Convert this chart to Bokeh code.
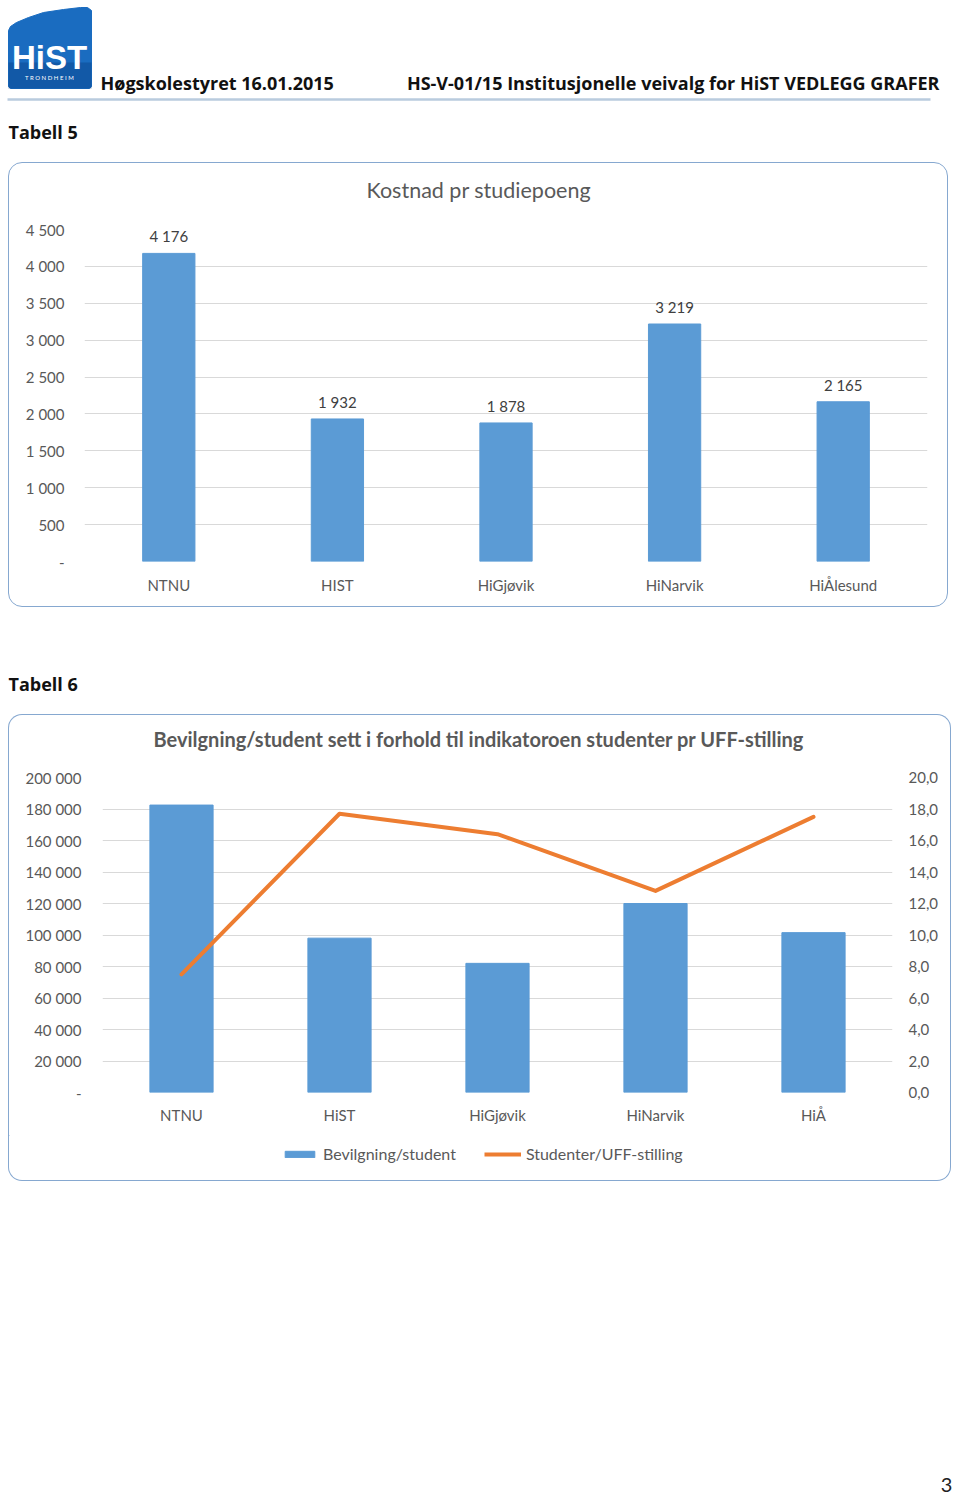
from bokeh.plotting import figure
from bokeh.models import (Range1d, FactorRange, LinearAxis, FixedTicker, LabelSet, Title,
                          ColumnDataSource, Legend, LegendItem)
from bokeh.layouts import column
from bokeh.embed import file_html
from bokeh.resources import INLINE
from bokeh.core.properties import value

# ---------------- data ----------------
t5_institutions = ["NTNU", "HIST", "HiGjøvik", "HiNarvik", "HiÅlesund"]
t5_cost = [4176, 1932, 1878, 3219, 2165]
t5_cost_labels = ["4 176", "1 932", "1 878", "3 219", "2 165"]
t5_ticks = [0, 500, 1000, 1500, 2000, 2500, 3000, 3500, 4000, 4500]
t5_tick_labels = ["-", "500", "1 000", "1 500", "2 000", "2 500", "3 000", "3 500", "4 000", "4 500"]

t6_institutions = ["NTNU", "HiST", "HiGjøvik", "HiNarvik", "HiÅ"]
t6_grant = [182500, 98000, 82000, 120000, 101500]
t6_students_per_uff = [7.5, 17.7, 16.4, 12.8, 17.5]
t6_left_ticks = [0, 20000, 40000, 60000, 80000, 100000, 120000, 140000, 160000, 180000, 200000]
t6_left_labels = ["-", "20 000", "40 000", "60 000", "80 000", "100 000", "120 000",
                  "140 000", "160 000", "180 000", "200 000"]
t6_right_ticks = [0, 2, 4, 6, 8, 10, 12, 14, 16, 18, 20]
t6_right_labels = ["0,0", "2,0", "4,0", "6,0", "8,0", "10,0", "12,0", "14,0", "16,0", "18,0", "20,0"]
t6_series_names = ["Bevilgning/student", "Studenter/UFF-stilling"]

# ---------------- styles ----------------
FONT = "Lato"
HFONT = "Open Sans"
TXT = "#595959"
GRID = "#d9d9d9"
BLUE = "#5b9bd5"
ORANGE = "#ed7d31"
BORDER = "#86a8d0"
BOX_CSS = {"border": f"1.5px solid {BORDER}", "border-radius": "14px", "overflow": "hidden",
           "margin-left": "8px"}
TOP_CSS = {"border": f"1.5px solid {BORDER}", "border-bottom": "none",
           "border-radius": "14px 14px 0 0", "overflow": "hidden", "margin-left": "8px"}
BOT_CSS = {"border": f"1.5px solid {BORDER}", "border-top": "none",
           "border-radius": "0 0 14px 14px", "overflow": "hidden", "margin-left": "8px"}


def blank(w, h):
    p = figure(width=w, height=h, x_range=Range1d(0, w), y_range=Range1d(h, 0),
               x_axis_type=None, y_axis_type=None, output_backend="svg",
               toolbar_location=None, min_border=0, frame_align=False)
    p.grid.visible = False
    p.outline_line_color = None
    p.background_fill_color = "white"
    p.border_fill_color = "white"
    return p


def style_axis(ax, size="15px"):
    ax.axis_line_color = None
    ax.major_tick_line_color = None
    ax.minor_tick_line_color = None
    ax.major_tick_out = 0
    ax.major_tick_in = 0
    ax.major_label_text_font = FONT
    ax.major_label_text_font_size = size
    ax.major_label_text_color = TXT


def add_title(p, text, offset, size, style, standoff, spacer):
    # spacer title sits next to the frame, the real title above it
    p.add_layout(Title(text=" ", text_font_size="1px", standoff=spacer), "above")
    p.add_layout(Title(text=text, align="left", offset=offset, vertical_align="top",
                       standoff=standoff, text_font=FONT, text_font_size=size,
                       text_font_style=style, text_color=TXT), "above")


# ---------------- header ----------------
hdr = blank(960, 162)
logo_x = [8, 8, 10, 16, 28, 43, 63, 80, 87, 91, 91, 89, 10]
logo_y = [86, 30, 26, 22, 17, 12, 9, 7, 7, 10, 86, 88, 88]
hdr.patch(logo_x, logo_y, fill_color="#1a6cc0", line_color="#1a6cc0")
hdr.patch([8, 8, 91, 91], [88, 62, 62, 88], fill_color="#0d4a92", line_color=None, fill_alpha=0.55)
hdr.text(x=[49], y=[57], text=["HiST"], text_color="white", text_font=value("Liberation Sans"),
         text_font_style="bold", text_font_size="33px", text_align="center", text_baseline="middle")
hdr.text(x=[49], y=[77], text=["T R O N D H E I M"], text_color="white", text_font=value(FONT),
         text_font_size="6px", text_align="center", text_baseline="middle")
hdr.text(x=[100], y=[82], text=["Høgskolestyret 16.01.2015"], text_color="#111111",
         text_font=value(HFONT), text_font_style="bold", text_font_size="18px",
         text_align="left", text_baseline="middle")
hdr.text(x=[939], y=[82], text=["HS-V-01/15 Institusjonelle veivalg for HiST VEDLEGG GRAFER"],
         text_color="#111111", text_font=value(HFONT), text_font_style="bold",
         text_font_size="18px", text_align="right", text_baseline="middle")
hdr.segment(x0=[7], y0=[99], x1=[930], y1=[99], line_color="#b9cbde", line_width=2.5)
hdr.text(x=[8], y=[131], text=["Tabell 5"], text_color="#111111", text_font=value(HFONT),
         text_font_style="bold", text_font_size="18px", text_align="left", text_baseline="middle")

# ---------------- chart 1 ----------------
src1 = ColumnDataSource(dict(inst=t5_institutions, cost=t5_cost, lab=t5_cost_labels))
p1 = figure(width=940, height=445, x_range=FactorRange(factors=t5_institutions),
            y_range=Range1d(0, 4500), output_backend="svg", toolbar_location=None,
            min_border_left=75, min_border_right=22, min_border_top=64, min_border_bottom=47,
            frame_align=False)
p1.styles = BOX_CSS
p1.outline_line_color = None
p1.background_fill_color = None
p1.border_fill_color = None
p1.vbar(x="inst", top="cost", width=0.31, source=src1, fill_color=BLUE, line_color=BLUE)
p1.add_layout(LabelSet(x="inst", y="cost", text="lab", source=src1, y_offset=8,
                       text_align="center", text_baseline="bottom", text_font=value(FONT),
                       text_font_size="15px", text_color="#404040"))
p1.yaxis.ticker = FixedTicker(ticks=t5_ticks)
p1.yaxis.major_label_overrides = {t: l for t, l in zip(t5_ticks, t5_tick_labels)}
style_axis(p1.yaxis[0])
style_axis(p1.xaxis[0])
p1.yaxis.major_label_standoff = 20
p1.xaxis.major_label_standoff = 14
p1.xgrid.visible = False
p1.ygrid.grid_line_color = GRID
p1.ygrid.grid_line_width = 1
add_title(p1, "Kostnad pr studiepoeng", 282, "21.5px", "normal", 27, 8)

# ---------------- spacer with "Tabell 6" ----------------
mid = blank(960, 107)
mid.text(x=[8], y=[76], text=["Tabell 6"], text_color="#111111", text_font=value(HFONT),
         text_font_style="bold", text_font_size="18px", text_align="left", text_baseline="middle")

# ---------------- chart 2 ----------------
src2 = ColumnDataSource(dict(inst=t6_institutions, grant=t6_grant, ratio=t6_students_per_uff))
p2 = figure(width=943, height=421, x_range=FactorRange(factors=t6_institutions),
            y_range=Range1d(0, 200000), output_backend="svg", toolbar_location=None,
            min_border_left=93, min_border_right=60, min_border_top=62, min_border_bottom=44,
            frame_align=False)
p2.styles = TOP_CSS
p2.outline_line_color = None
p2.background_fill_color = None
p2.border_fill_color = None
p2.extra_y_ranges = {"ratio": Range1d(0, 20)}
bars = p2.vbar(x="inst", top="grant", width=0.4, source=src2, fill_color=BLUE, line_color=BLUE)
ln = p2.line(x="inst", y="ratio", source=src2, y_range_name="ratio", line_color=ORANGE,
             line_width=4, line_join="round", line_cap="round")
p2.yaxis.ticker = FixedTicker(ticks=t6_left_ticks)
p2.yaxis.major_label_overrides = {t: l for t, l in zip(t6_left_ticks, t6_left_labels)}
style_axis(p2.yaxis[0])
style_axis(p2.xaxis[0])
p2.yaxis.major_label_standoff = 21
p2.xaxis.major_label_standoff = 13
rax = LinearAxis(y_range_name="ratio", ticker=FixedTicker(ticks=t6_right_ticks))
rax.major_label_overrides = {t: l for t, l in zip(t6_right_ticks, t6_right_labels)}
style_axis(rax)
rax.major_label_standoff = 16
p2.add_layout(rax, "right")
p2.xgrid.visible = False
p2.ygrid.grid_line_color = GRID
p2.ygrid.grid_line_width = 1
add_title(p2, "Bevilgning/student  sett i forhold til indikatoroen studenter pr UFF-stilling",
          51, "20px", "bold", 23, 10)

# legend strip (bottom part of the chart 2 box); its proxy glyphs lie outside the visible range
leg = blank(943, 46)
leg.styles = BOT_CSS
leg.background_fill_color = None
leg.border_fill_color = None
lbar = leg.vbar(x=[-500], top=[-400], bottom=[-401], width=1, fill_color=BLUE, line_color=BLUE)
lline = leg.line(x=[-500, -490], y=[-400, -400], line_color=ORANGE, line_width=4)
legend = Legend(items=[LegendItem(label=t6_series_names[0], renderers=[lbar]),
                       LegendItem(label=t6_series_names[1], renderers=[lline])],
                orientation="horizontal", location=(272, 18), glyph_width=37, glyph_height=8,
                label_standoff=5, spacing=28, padding=0, margin=0, border_line_color=None,
                background_fill_color=None, background_fill_alpha=0, label_text_font=FONT,
                label_text_font_size="16px", label_text_color=TXT)
leg.add_layout(legend)

# ---------------- footer ----------------
foot = blank(960, 314)
foot.text(x=[946], y=[303], text=["3"], text_color="#222222", text_font=value(FONT),
          text_font_size="20px", text_align="center", text_baseline="middle")

layout = column(hdr, p1, mid, p2, leg, foot, spacing=0)
open("out.html", "w").write(file_html(layout, INLINE))
